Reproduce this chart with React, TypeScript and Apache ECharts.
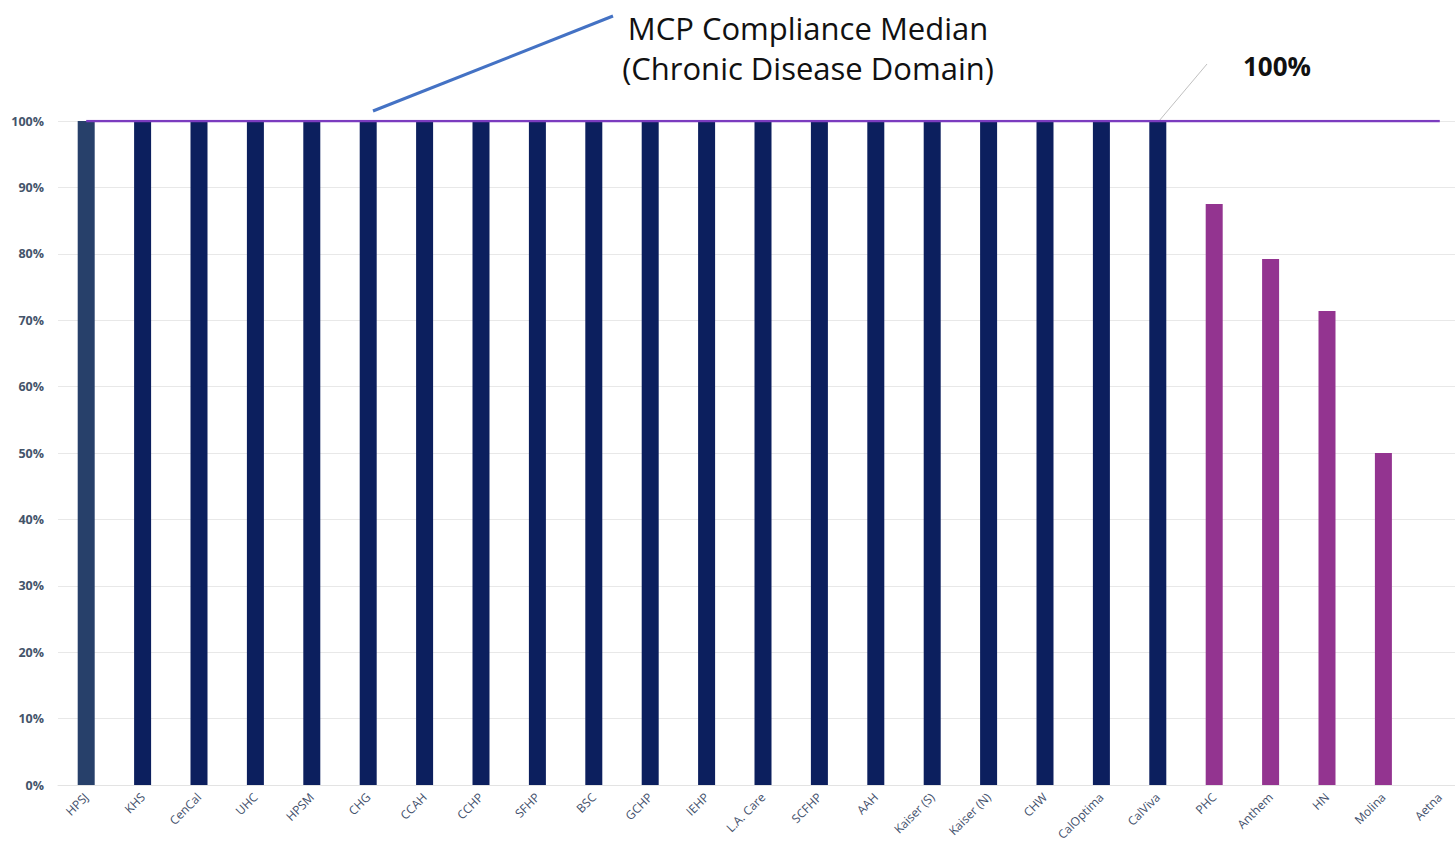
import React, { useEffect, useRef } from "react";
import * as echarts from "echarts";

const categories = [
  "HPSJ", "KHS", "CenCal", "UHC", "HPSM", "CHG", "CCAH", "CCHP", "SFHP", "BSC",
  "GCHP", "IEHP", "L.A. Care", "SCFHP", "AAH", "Kaiser (S)", "Kaiser (N)", "CHW",
  "CalOptima", "CalViva", "PHC", "Anthem", "HN", "Molina", "Aetna",
];
const compliance = [
  1, 1, 1, 1, 1, 1, 1, 1, 1, 1,
  1, 1, 1, 1, 1, 1, 1, 1,
  1, 1, 0.875, 0.792, 0.714, 0.5, 0,
];
const medianValue = 1;
const yTicks = [0, 0.1, 0.2, 0.3, 0.4, 0.5, 0.6, 0.7, 0.8, 0.9, 1];

const colorFor = (i: number, v: number) => {
  if (i === 0) return "#27406a";
  if (v >= 1) return "#0c1f5e";
  return "#933490";
};

export default function App() {
  const ref = useRef<HTMLDivElement>(null);
  useEffect(() => {
    if (!ref.current) return;
    const chart = echarts.init(ref.current, null, { renderer: "svg" });
    chart.setOption({
      animation: false,
      backgroundColor: "#ffffff",
      grid: { left: 58, top: 121, right: 0, bottom: 59, containLabel: false },
      xAxis: {
        type: "category",
        data: categories,
        axisLine: { show: true, lineStyle: { color: "#e3e3e3", width: 1 } },
        axisTick: { show: false },
        axisLabel: {
          rotate: 45,
          interval: 0,
          fontSize: 12,
          color: "#3f4f6b",
          fontFamily: "Open Sans",
          margin: 10,
        },
      },
      yAxis: {
        type: "value",
        min: 0,
        max: 1,
        interval: 0.1,
        axisLine: { show: false },
        axisTick: { show: false },
        splitLine: { lineStyle: { color: "#e8e8e8", width: 1 } },
        axisLabel: {
          formatter: (v: number) => {
            const t = yTicks.find((x) => Math.abs(x - v) < 1e-6);
            return t === undefined ? "" : Math.round(t * 100) + "%";
          },
          fontSize: 12.5,
          fontWeight: "bold",
          color: "#44546a",
          fontFamily: "Open Sans",
          margin: 14,
        },
      },
      series: [
        {
          type: "bar",
          barWidth: 17,
          data: compliance.map((v, i) => ({ value: v, itemStyle: { color: colorFor(i, v) } })),
        },
        {
          type: "line",
          data: categories.map(() => medianValue),
          symbol: "none",
          lineStyle: { color: "#7b3cbf", width: 2.5 },
          z: 5,
        },
      ],
      graphic: [
        {
          type: "line",
          shape: { x1: 373, y1: 111, x2: 613, y2: 16 },
          style: { stroke: "#4472c4", lineWidth: 3 },
        },
        {
          type: "text",
          x: 808,
          y: 28,
          style: {
            text: "MCP Compliance Median",
            font: "31px 'Open Sans'",
            fill: "#111111",
            align: "center",
            verticalAlign: "middle",
          },
        },
        {
          type: "text",
          x: 808,
          y: 68,
          style: {
            text: "(Chronic Disease Domain)",
            font: "31px 'Open Sans'",
            fill: "#111111",
            align: "center",
            verticalAlign: "middle",
          },
        },
        {
          type: "line",
          shape: { x1: 1159, y1: 121, x2: 1207, y2: 64 },
          style: { stroke: "#c0c0c0", lineWidth: 1 },
        },
        {
          type: "text",
          x: 1277,
          y: 66,
          style: {
            text: "100%",
            font: "bold 26px 'Open Sans'",
            fill: "#111111",
            align: "center",
            verticalAlign: "middle",
          },
        },
      ],
    });
    return () => chart.dispose();
  }, []);
  return (
    <div
      style={{
        position: "absolute",
        left: 0,
        top: 0,
        width: 1455,
        height: 844,
        overflow: "hidden",
        background: "#ffffff",
      }}
    >
      <div ref={ref} style={{ width: 1468, height: 844 }} />
    </div>
  );
}
